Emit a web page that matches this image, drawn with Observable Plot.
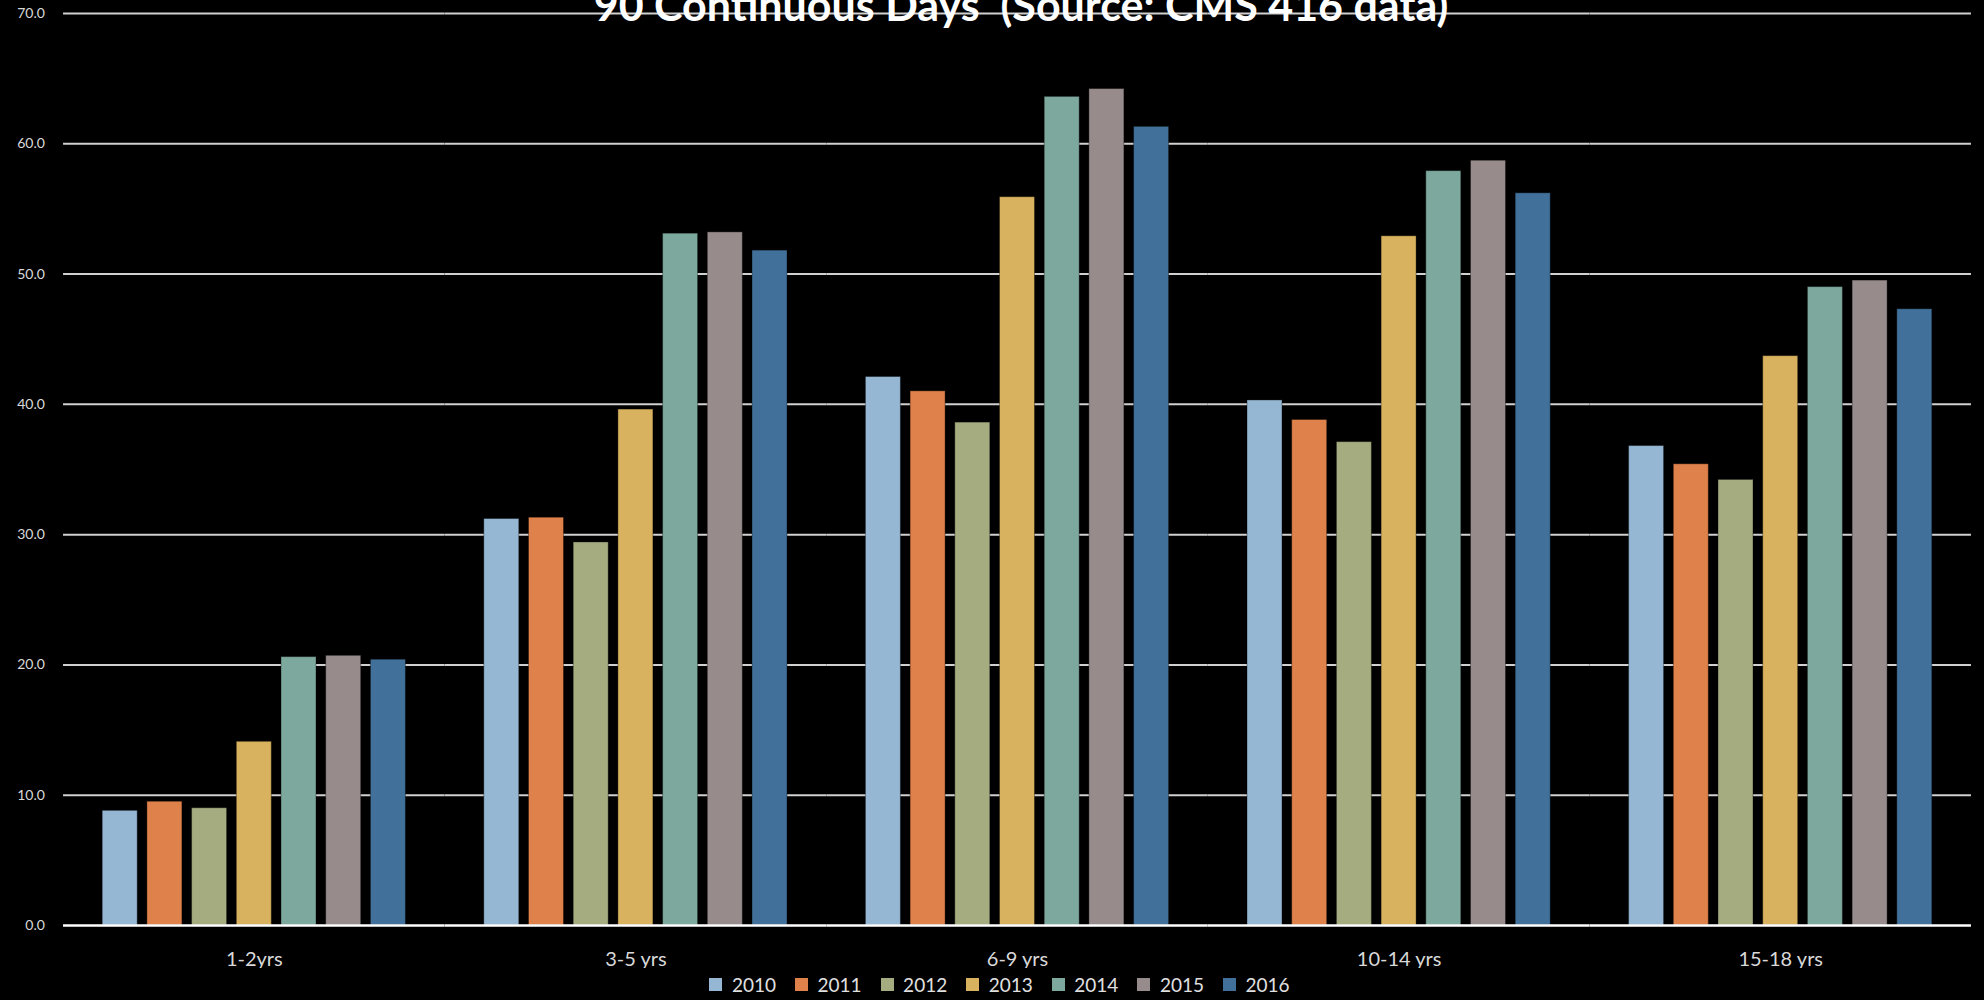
<!DOCTYPE html>
<html>
<head>
<meta charset="utf-8">
<script src="https://cdn.jsdelivr.net/npm/d3@7"></script>
<script src="https://cdn.jsdelivr.net/npm/@observablehq/plot@0.6"></script>
<style>
  html, body { margin: 0; padding: 0; background: #000; }
  body { width: 1984px; height: 1000px; overflow: hidden; position: relative; font-family: Lato, "Open Sans", sans-serif; }
  #title { position: absolute; left: 29px; width: 1984px; top: -17px; text-align: center; color: #fff;
           font: bold 43px/43px Lato, "Open Sans", sans-serif; white-space: pre; z-index: 2; }
  #chart { position: absolute; left: 0; top: 0; }
  #legend { position: absolute; left: 0; top: 968px; width: 1984px; box-sizing: border-box; padding-left: 34px; }
  #legend div { justify-content: center !important; }
  svg g[aria-label^="y-axis"] text { font-size: 14px; }
  svg g[aria-label^="fx-axis"] text { font-size: 20px; }
</style>
</head>
<body>
<div id="title">90 Continuous Days  (Source: CMS 416 data)</div>
<div id="chart"></div>
<div id="legend"></div>
<script>
const categories = ["1-2yrs", "3-5 yrs", "6-9 yrs", "10-14 yrs", "15-18 yrs"];
const years = ["2010", "2011", "2012", "2013", "2014", "2015", "2016"];
const colors = ["#95B7D4", "#DE814A", "#A5AC80", "#D8B25E", "#7DA89D", "#978C8B", "#41719A"];
const v2010 = [8.8, 31.2, 42.1, 40.3, 36.8];
const v2011 = [9.5, 31.3, 41.0, 38.8, 35.4];
const v2012 = [9.0, 29.4, 38.6, 37.1, 34.2];
const v2013 = [14.1, 39.6, 55.9, 52.9, 43.7];
const v2014 = [20.6, 53.1, 63.6, 57.9, 49.0];
const v2015 = [20.7, 53.2, 64.2, 58.7, 49.5];
const v2016 = [20.4, 51.8, 61.3, 56.2, 47.3];
const yTicks = [0, 10, 20, 30, 40, 50, 60, 70];

const series = [v2010, v2011, v2012, v2013, v2014, v2015, v2016];
const data = [];
categories.forEach((c, i) => years.forEach((yr, j) => data.push({group: c, year: yr, value: series[j][i]})));

const ext = 34.3;
const plot = Plot.plot({
  width: 1984,
  height: 973,
  marginTop: 13,
  marginBottom: 48,
  marginLeft: 63,
  marginRight: 13,
  style: {background: "#000", color: "#d9d9d9", fontFamily: "Lato, 'Open Sans', sans-serif", fontSize: "14px", overflow: "visible"},
  fx: {domain: categories, paddingInner: 0.18, paddingOuter: 0.09, round: false, axis: "bottom", label: null, tickSize: 0, tickPadding: 26},
  x: {domain: years, paddingInner: 0.217, paddingOuter: 0.1085, round: false, axis: null},
  y: {domain: [0, 70], ticks: yTicks, tickFormat: d3.format(".1f"), tickSize: 0, tickPadding: 53, label: null},
  color: {domain: years, range: colors},
  marks: [
    Plot.ruleY(yTicks.filter(d => d > 0), {stroke: "#d0d0d0", strokeWidth: 2, insetLeft: -ext, insetRight: -ext}),
    Plot.barY(data, {fx: "group", x: "year", y: "value", fill: "year", stroke: "#000", strokeOpacity: 0.35, strokeWidth: 1}),
    Plot.ruleY([0], {stroke: "#fff", strokeWidth: 2.5, insetLeft: -ext, insetRight: -ext})
  ]
});
document.getElementById("chart").appendChild(plot);

const legend = Plot.legend({
  color: {domain: years, range: colors},
  legend: "swatches",
  swatchSize: 13,
  style: {background: "#000", color: "#e0e0e0", fontSize: "19px", fontFamily: "Lato, 'Open Sans', sans-serif"}
});
document.getElementById("legend").appendChild(legend);
</script>
</body>
</html>
